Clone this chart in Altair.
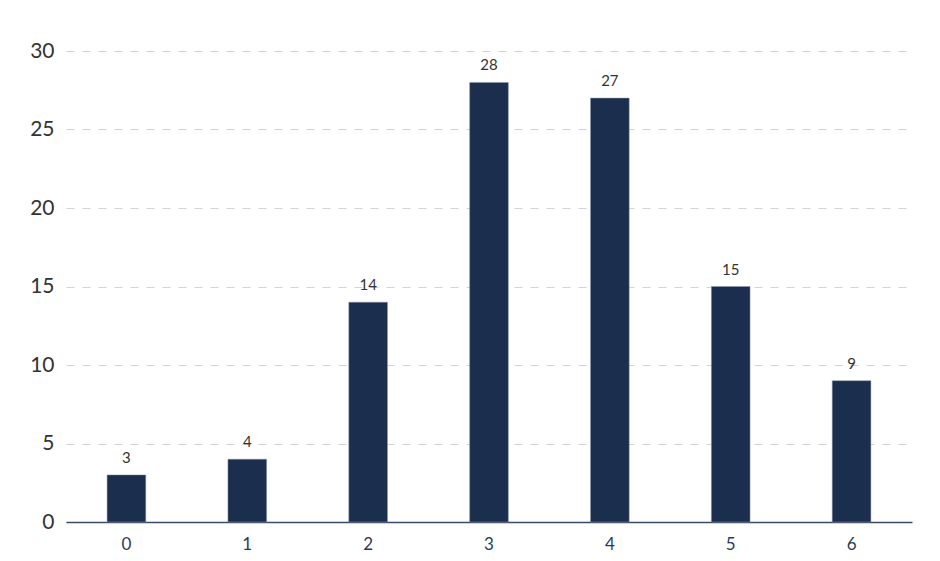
import altair as alt
import pandas as pd

categories = ["0", "1", "2", "3", "4", "5", "6"]
values = [3, 4, 14, 28, 27, 15, 9]
y_ticks = [0, 5, 10, 15, 20, 25, 30]

df = pd.DataFrame({"cat": categories, "val": values})

FONT = "Lato"
NAVY = "#1b2e4d"

base = alt.Chart(df)

bars = base.mark_bar(color=NAVY, stroke="#8a96aa", strokeWidth=0.5).encode(
    x=alt.X("cat:N", sort=categories, title=None,
            scale=alt.Scale(paddingInner=0.68, paddingOuter=0.34),
            axis=alt.Axis(labelAngle=0, ticks=False, domain=True, domainColor="#3b4a66",
                          domainWidth=1.5, labelFontSize=17, labelColor="#2b3a57",
                          labelPadding=14, labelFont=FONT, grid=False)),
    y=alt.Y("val:Q", title=None,
            scale=alt.Scale(domain=[0, 30], nice=False),
            axis=alt.Axis(values=y_ticks, ticks=False, domain=False, labelFontSize=21,
                          labelColor="#333333", labelPadding=12, labelFont=FONT,
                          grid=True, gridColor="#d4d4d4", gridDash=[8, 8], gridWidth=1)),
)

labels = base.mark_text(dy=-9, baseline="bottom", fontSize=15, color="#333333", font=FONT).encode(
    x=alt.X("cat:N", sort=categories),
    y=alt.Y("val:Q"),
    text=alt.Text("val:Q"),
)

chart = (bars + labels).properties(
    width=846, height=471,
    autosize=alt.AutoSizeParams(type="none"),
    padding={"left": 58, "top": 43, "right": 20, "bottom": 40},
    background="white",
).configure_view(stroke=None)

chart.save("out.html", embed_options={"renderer": "svg", "actions": False})
